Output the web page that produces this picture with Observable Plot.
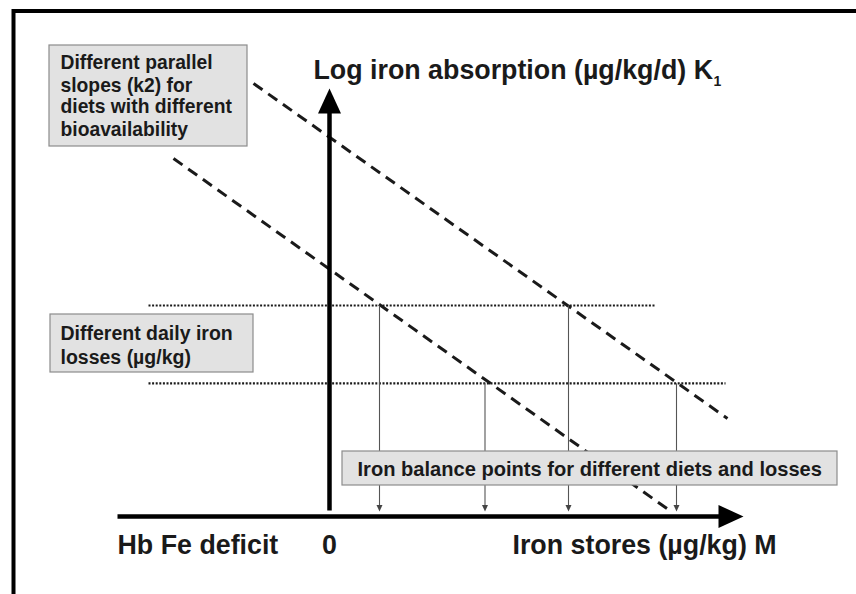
<!DOCTYPE html>
<html>
<head>
<meta charset="utf-8">
<script src="https://cdn.jsdelivr.net/npm/d3@7"></script>
<script src="https://cdn.jsdelivr.net/npm/@observablehq/plot@0.6"></script>
<style>
  html, body { margin: 0; padding: 0; background: #fff; }
  #chart svg { display: block; }
</style>
</head>
<body>
<div id="chart"></div>
<script>
// ---- Schematic values (arbitrary units: x = iron stores, y = log absorption) ----
// Absorption lines for two diets with different bioavailability (parallel slopes k2)
const diets = [
  {diet: "higher bioavailability", x1: -1.9, y1: 10.825, x2: 9.95, y2: 2.45},
  {diet: "lower bioavailability", x1: -3.9, y1: 8.95, x2: 8.575, y2: 0.1}
];
// Daily iron loss levels (horizontal dotted lines)
const losses = [
  {loss: "higher losses", level: 5.275, x1: -4.525, x2: 8.15},
  {loss: "lower losses", level: 3.33, x1: -4.525, x2: 9.9}
];
// Iron balance points (where absorption equals losses)
const balancePoints = [
  {stores: 1.25, level: 5.275},
  {stores: 3.8875, level: 3.33},
  {stores: 5.975, level: 5.275},
  {stores: 8.675, level: 3.33}
];
const balanceArrowTip = 0.125;
// Axes extents
const axisLines = [
  {axis: "x", x1: -5.3, y1: 0, x2: 10.15, y2: 0},
  {axis: "y", x1: 0, y1: 0.15, x2: 0, y2: 10.4}
];
const axisTips = [
  {axis: "x", x: 10.35, y: 0, rotate: 90},
  {axis: "y", x: 0, y: 10.7, rotate: 0}
];
// Annotation boxes
const boxes = [
  {x1: -7.0, x2: -2.05, y1: 9.25, y2: 11.775},
  {x1: -6.975, x2: -1.9, y1: 3.6, y2: 5.05},
  {x1: 0.325, x2: 12.7, y1: 0.775, y2: 1.625}
];
const box1Lines = ["Different parallel", "slopes (k2) for", "diets with different", "bioavailability"];
const box1Baselines = [11.2, 10.625, 10.1, 9.525];
const box2Lines = ["Different daily iron", "losses (µg/kg)"];
const box2Baselines = [4.425, 3.825];
const box3Text = "Iron balance points for different diets and losses";
const startLabels = [
  {text: "Log iron absorption (µg/kg/d) K", x: -0.4, y: 10.95},
  {text: "Hb Fe deficit", x: -5.3, y: -0.925},
  {text: "Iron stores (µg/kg) M", x: 4.575, y: -0.925}
];
const originLabel = {text: "0", x: 0, y: -0.925};
const subscript = {text: "1", x: 9.6, y: 10.775};

// Arrowhead symbol with its tip at the origin, pointing up
const arrowhead = {
  draw(context, size) {
    const r = Math.sqrt(size / Math.PI);
    context.moveTo(0, 0);
    context.lineTo(1.15 * r, 2.5 * r);
    context.lineTo(-1.15 * r, 2.5 * r);
    context.closePath();
  }
};

const ink = "#1a1a1a";
const font = "'Liberation Sans', Arial, Helvetica, sans-serif";

const chart = Plot.plot({
  width: 856,
  height: 594,
  margin: 0,
  x: {domain: [-8.225, 13.175], axis: null},
  y: {domain: [-1.95, 12.9], axis: null},
  style: {fontFamily: font, background: "#fff"},
  marks: [
    Plot.frame({stroke: "#000", strokeWidth: 4, insetLeft: 13, insetTop: 10.5, insetRight: -10, insetBottom: -10}),
    // dotted loss levels
    Plot.link(losses, {x1: "x1", x2: "x2", y1: "level", y2: "level", stroke: ink, strokeWidth: 2.2, strokeDasharray: "2,1.6"}),
    // dashed absorption lines
    Plot.link(diets, {x1: "x1", y1: "y1", x2: "x2", y2: "y2", stroke: ink, strokeWidth: 3, strokeDasharray: "11,7"}),
    // balance point arrows
    Plot.link(balancePoints, {x1: "stores", x2: "stores", y1: "level", y2: balanceArrowTip + 0.08, stroke: "#555", strokeWidth: 1.1}),
    Plot.dot(balancePoints, {x: "stores", y: balanceArrowTip, symbol: arrowhead, r: 2.6, fill: "#444", stroke: "none", rotate: 180}),
    // axes
    Plot.link(axisLines, {x1: "x1", y1: "y1", x2: "x2", y2: "y2", stroke: "#000", strokeWidth: 4.5}),
    Plot.dot(axisTips, {x: "x", y: "y", rotate: "rotate", symbol: arrowhead, r: 10, fill: "#000", stroke: "none"}),
    // boxes
    Plot.rect(boxes, {x1: "x1", x2: "x2", y1: "y1", y2: "y2", fill: "#e2e2e2", stroke: "#8c8c8c", strokeWidth: 1.2}),
    // box texts
    Plot.text(box1Lines, {x: -6.725, y: (d, i) => box1Baselines[i], text: d => d, textAnchor: "start", lineAnchor: "bottom", fontSize: 19.3, fontWeight: "bold", fill: ink}),
    Plot.text(box2Lines, {x: -6.725, y: (d, i) => box2Baselines[i], text: d => d, textAnchor: "start", lineAnchor: "bottom", fontSize: 19.5, fontWeight: "bold", fill: ink}),
    Plot.text([box3Text], {x: 0.7, y: 1.025, text: d => d, textAnchor: "start", lineAnchor: "bottom", fontSize: 20.1, fontWeight: "bold", fill: ink}),
    // axis labels
    Plot.text(startLabels, {x: "x", y: "y", text: "text", textAnchor: "start", lineAnchor: "bottom", fontSize: 26.8, fontWeight: "bold", fill: ink}),
    Plot.text([originLabel], {x: "x", y: "y", text: "text", textAnchor: "middle", lineAnchor: "bottom", fontSize: 26.8, fontWeight: "bold", fill: ink}),
    Plot.text([subscript], {x: "x", y: "y", text: "text", textAnchor: "start", lineAnchor: "bottom", fontSize: 14, fontWeight: "bold", fill: ink})
  ]
});
document.getElementById("chart").appendChild(chart);
</script>
</body>
</html>
